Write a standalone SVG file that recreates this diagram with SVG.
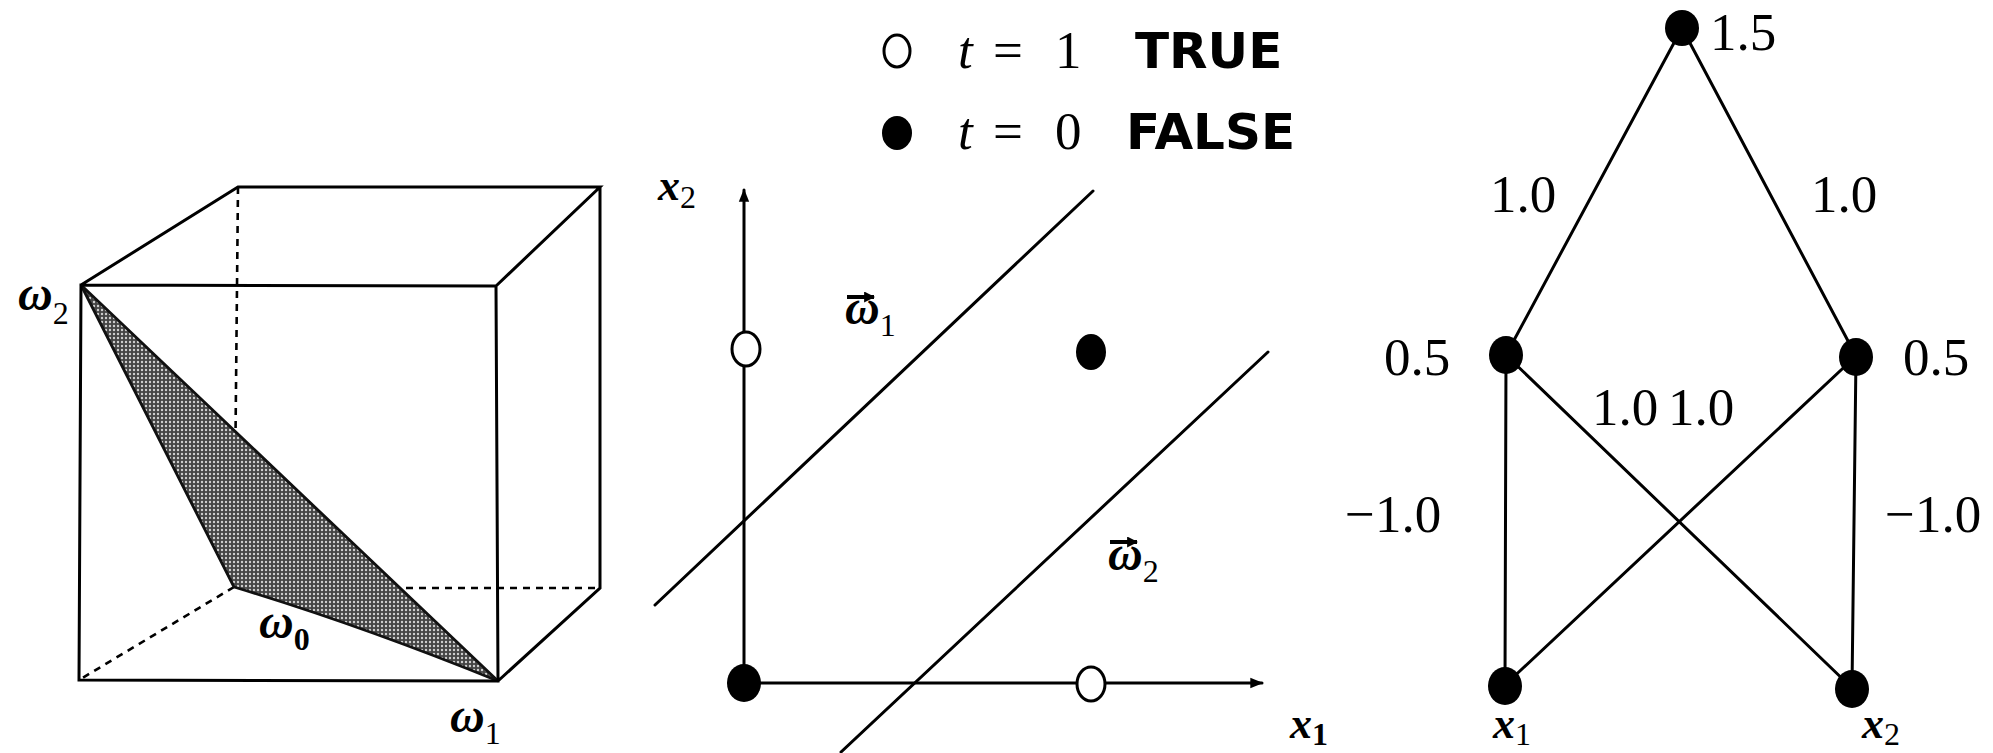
<svg xmlns="http://www.w3.org/2000/svg" width="1993" height="753" viewBox="0 0 1993 753">
<style>
.e{stroke:#000;stroke-width:3;fill:none;stroke-linecap:round}
.d{stroke:#000;stroke-width:2.6;fill:none;stroke-dasharray:7 6}
.num{font-family:"Liberation Serif",serif;font-size:53px;fill:#000}
.mi{font-family:"Liberation Serif",serif;font-style:italic;font-weight:bold;fill:#000}
.sub{font-family:"Liberation Serif",serif;font-size:32px;fill:#000}
.lg{font-family:"DejaVu Sans",sans-serif;font-weight:bold;font-size:50px;fill:#000}
.dot{fill:#000}
.open{fill:#fff;stroke:#000;stroke-width:3}
</style>
<defs>
<pattern id="stip" width="4" height="4" patternUnits="userSpaceOnUse">
<rect width="4" height="4" fill="#444"/>
<circle cx="2" cy="2" r="1.2" fill="#cfcfcf"/>
</pattern>
<marker id="ah" viewBox="0 0 10 10" refX="9" refY="5" markerWidth="15" markerHeight="13" orient="auto" markerUnits="userSpaceOnUse">
<path d="M0,1 L10,5 L0,9 z" fill="#000"/>
</marker>
<marker id="va" viewBox="0 0 10 10" refX="9" refY="5" markerWidth="11" markerHeight="11" orient="auto" markerUnits="userSpaceOnUse">
<path d="M0,0 L10,5 L0,10 z" fill="#000"/>
</marker>
</defs>
<rect width="1993" height="753" fill="#fff"/>

<g id="cube">
<path class="d" d="M238,187 L234,587 M234,587 L79,680 M380,588 L600,588"/>
<path d="M81,285 Q165,450 234,587 Q360,625 498,681 Z" fill="url(#stip)" stroke="#111" stroke-width="2.8"/>
<path class="e" d="M81,285 L496,286 L498,681 L79,680 Z M81,285 L238,187 L600,187 L496,286 M600,187 L600,588 L498,681"/>
<text class="mi" x="18" y="310" font-size="48">ω<tspan class="sub" font-style="normal" font-weight="normal" dy="14">2</tspan></text>
<text class="mi" x="259" y="638" font-size="48">ω<tspan class="sub" font-style="normal" font-weight="bold" dy="12">0</tspan></text>
<text class="mi" x="450" y="732" font-size="48">ω<tspan class="sub" font-style="normal" font-weight="normal" dy="12">1</tspan></text>
</g>

<g id="legend">
<ellipse class="open" cx="897" cy="51" rx="13" ry="16"/>
<text class="num" y="68" font-size="56"><tspan x="958" font-style="italic">t</tspan><tspan x="993">=</tspan><tspan x="1055">1</tspan></text>
<text class="lg" x="1135" y="68">TRUE</text>
<ellipse class="dot" cx="897" cy="133" rx="15" ry="17"/>
<text class="num" y="149" font-size="56"><tspan x="958" font-style="italic">t</tspan><tspan x="993">=</tspan><tspan x="1055">0</tspan></text>
<text class="lg" x="1126" y="149">FALSE</text>
</g>

<g id="plot">
<line class="e" x1="744" y1="683" x2="744" y2="190" marker-end="url(#ah)"/>
<line class="e" x1="744" y1="683" x2="1262" y2="683" marker-end="url(#ah)"/>
<line class="e" x1="655" y1="605" x2="1093" y2="191"/>
<line class="e" x1="841" y1="752" x2="1268" y2="352"/>
<ellipse class="dot" cx="744" cy="683" rx="17" ry="19"/>
<ellipse class="open" cx="746" cy="349" rx="14" ry="17"/>
<ellipse class="open" cx="1091" cy="684" rx="14" ry="17"/>
<ellipse class="dot" cx="1091" cy="352" rx="15" ry="18"/>
<text class="mi" x="658" y="200" font-size="44">x<tspan class="sub" font-style="normal" font-weight="normal" dy="8">2</tspan></text>
<text class="mi" x="1290" y="738" font-size="44">x<tspan class="sub" font-style="normal" font-weight="bold" dy="7">1</tspan></text>
<text class="mi" x="845" y="324" font-size="48">ω<tspan class="sub" font-style="normal" font-weight="normal" dy="12">1</tspan></text>
<line x1="847" y1="297" x2="874" y2="297" stroke="#000" stroke-width="4" marker-end="url(#va)"/>
<text class="mi" x="1108" y="570" font-size="48">ω<tspan class="sub" font-style="normal" font-weight="normal" dy="12">2</tspan></text>
<line x1="1110" y1="542" x2="1137" y2="542" stroke="#000" stroke-width="4" marker-end="url(#va)"/>
</g>

<g id="connectors">
<line class="e" x1="1682" y1="28" x2="1506" y2="355"/>
<line class="e" x1="1682" y1="28" x2="1856" y2="356"/>
<line class="e" x1="1506" y1="355" x2="1505" y2="685"/>
<line class="e" x1="1506" y1="355" x2="1852" y2="688"/>
<line class="e" x1="1856" y1="356" x2="1505" y2="685"/>
<line class="e" x1="1856" y1="356" x2="1852" y2="688"/>
</g>
<g id="n-out"><ellipse class="dot" cx="1682" cy="28" rx="17" ry="18"/><text class="num" x="1710" y="50">1.5</text></g>
<g id="n-h1"><ellipse class="dot" cx="1506" cy="355" rx="17" ry="19"/><text class="num" x="1384" y="375">0.5</text></g>
<g id="n-h2"><ellipse class="dot" cx="1856" cy="357" rx="17" ry="19"/><text class="num" x="1903" y="375">0.5</text></g>
<g id="n-x1"><ellipse class="dot" cx="1505" cy="686" rx="17" ry="19"/><text class="mi" x="1493" y="738" font-size="44">x<tspan class="sub" font-style="normal" font-weight="normal" dy="7">1</tspan></text></g>
<g id="n-x2"><ellipse class="dot" cx="1852" cy="689" rx="17" ry="19"/><text class="mi" x="1862" y="738" font-size="44">x<tspan class="sub" font-style="normal" font-weight="normal" dy="7">2</tspan></text></g>
<g id="labels">
<text class="num" x="1490" y="212">1.0</text>
<text class="num" x="1811" y="212">1.0</text>
<text class="num" x="1592" y="425">1.0</text>
<text class="num" x="1668" y="425">1.0</text>
<text class="num" x="1345" y="532">−1.0</text>
<text class="num" x="1885" y="532">−1.0</text>
</g>
</svg>
